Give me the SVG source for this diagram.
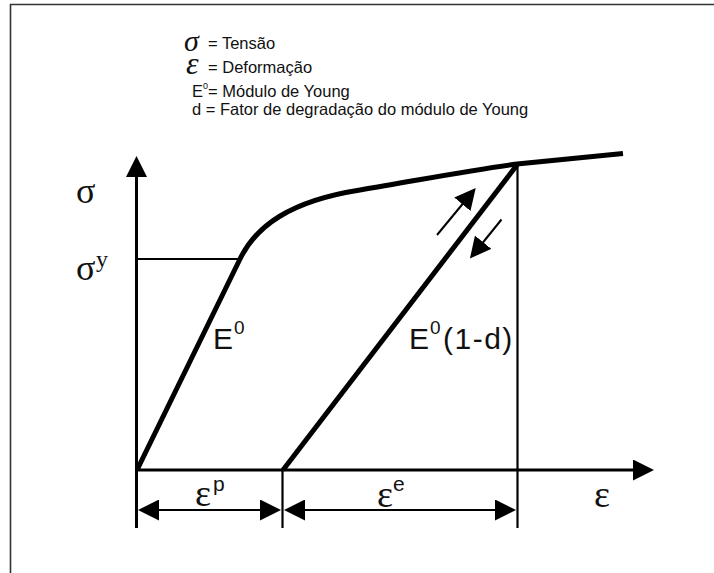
<svg xmlns="http://www.w3.org/2000/svg" width="714" height="573" viewBox="0 0 714 573">
<style>
.sans{font-family:"Liberation Sans",Arial,sans-serif;fill:#111}
.serif{font-family:"Liberation Serif","Times New Roman",serif;fill:#111}
.ax{stroke:#000;stroke-width:3;fill:none;marker-end:url(#ah)}
.thin{stroke:#000;stroke-width:2.2;fill:none}
.thick{stroke:#000;stroke-width:5;fill:none;stroke-linejoin:round}
.dim{stroke:#000;stroke-width:2;fill:none;marker-start:url(#ah);marker-end:url(#ah)}
.arr{stroke:#000;stroke-width:2;fill:none;marker-end:url(#ah)}
</style>
<defs>
<marker id="ah" viewBox="0 0 21 21" markerWidth="21" markerHeight="21" markerUnits="userSpaceOnUse" refX="1" refY="10.5" orient="auto-start-reverse">
<path d="M0,0 L21,10.5 L0,21 Z" fill="#000"/>
</marker>
</defs>
<rect width="714" height="573" fill="#fff"/>
<g id="frame">
<path d="M10.5,573 L10.5,4.5 L714,4.5" fill="none" stroke="#333" stroke-width="1.6"/>
</g>
<g id="legend">
<text class="serif" x="184" y="51" font-size="30" font-style="italic">σ</text>
<text class="sans" x="208" y="49" font-size="16.5">= Tensão</text>
<text class="serif" x="186" y="74" font-size="32" font-style="italic">ε</text>
<text class="sans" x="208" y="73" font-size="16.5">= Deformação</text>
<text class="sans" x="192" y="97" font-size="16.5">E</text>
<text class="sans" x="203" y="89" font-size="9">0</text>
<text class="sans" x="208" y="97" font-size="16.5">= Módulo de Young</text>
<text class="sans" x="192" y="115" font-size="16.5">d = Fator de degradação do módulo de Young</text>
</g>
<g id="connectors">
<line id="y-axis" class="ax" x1="136.5" y1="528" x2="136.5" y2="176"/>
<line id="x-axis" class="ax" x1="135" y1="470" x2="634" y2="470"/>
<line class="thin" x1="136.5" y1="259" x2="241" y2="259"/>
<line class="thin" x1="282.5" y1="470" x2="282.5" y2="528"/>
<line class="thin" x1="517.5" y1="164" x2="517.5" y2="528"/>
<path id="loading" class="thick" d="M137,470 L240,259 C256,226 290,201 360,190 C420,180 470,170 517,164 L623,153.5"/>
<line id="unloading" class="thick" x1="283" y1="470" x2="517" y2="165"/>
<line class="dim" x1="158" y1="510" x2="261" y2="510"/>
<line class="dim" x1="304" y1="510" x2="496" y2="510"/>
<line class="arr" x1="437" y1="235" x2="463" y2="203.5"/>
<line class="arr" x1="501.5" y1="219.5" x2="482.5" y2="243"/>
</g>
<g id="labels">
<text class="serif" x="76" y="203" font-size="36">σ</text>
<text class="serif" x="76" y="280" font-size="36">σ</text>
<text class="serif" x="96" y="267" font-size="24">y</text>
<text class="sans" x="213" y="349" font-size="30">E</text>
<text class="sans" x="234" y="334" font-size="19">0</text>
<text class="sans" x="409" y="349" font-size="30">E</text>
<text class="sans" x="430" y="334" font-size="19">0</text>
<text class="sans" x="443" y="349" font-size="30" letter-spacing="1.5">(1-d)</text>
<text class="serif" x="195" y="506" font-size="38">ε</text>
<text class="sans" x="213" y="491" font-size="21">p</text>
<text class="serif" x="377" y="507" font-size="38">ε</text>
<text class="sans" x="393" y="491" font-size="21">e</text>
<text class="serif" x="594" y="507" font-size="38">ε</text>
</g>
</svg>
